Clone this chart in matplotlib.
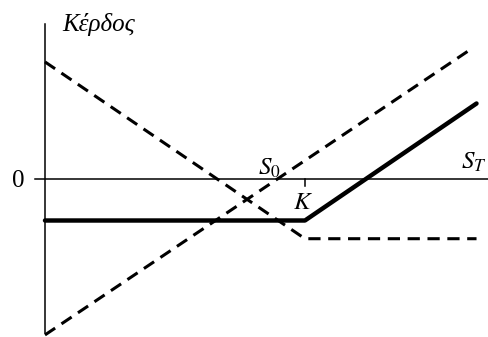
import matplotlib
matplotlib.use('Agg')
import matplotlib.pyplot as plt

plt.rcParams['mathtext.fontset'] = 'stix'
plt.rcParams['font.family'] = ['Liberation Serif', 'DejaVu Serif']

# Τιμές (μονάδες: K = 100)
K = 100
S0 = 87
premium = -16

# Αγορά δικαιώματος αγοράς (συνεχής γραμμή)
call_S = [0, K, 166]
call_profit = [premium, premium, 29]

# Πώληση δικαιώματος πώλησης / θέση κάτω (διακεκομμένη 1)
put_S = [0, K, 166]
put_profit = [45, -23, -23]

# Θέση στη μετοχή (διακεκομμένη 2)
stock_S = [0, 164]
stock_profit = [-60, 50]

fig = plt.figure(figsize=(4.89, 3.37), dpi=100)
ax = fig.add_axes([0, 0, 1, 1])
ax.set_xlim(-17.3, 170.8)
ax.set_ylim(-60.8, 68.8)
ax.axis('off')

# άξονες
ax.plot([-3.8, 170.8], [0, 0], color='black', lw=1.1)
ax.plot([0, 0], [-59.2, 59.6], color='black', lw=1.1)
ax.plot([K, K], [0, -2.8], color='black', lw=1.1)

ax.plot(put_S, put_profit, color='black', lw=2.2, ls=(0, (4, 2.5)))
ax.plot(stock_S, stock_profit, color='black', lw=2.2, ls=(0, (4, 2.5)))
ax.plot(call_S, call_profit, color='black', lw=3.2, solid_capstyle='round')

ax.text(6.5, 59.5, 'Κέρδος', fontsize=18, style='italic', va='center', ha='left')
ax.text(-10.4, -0.8, '0', fontsize=18, va='center', ha='center')
ax.text(S0 - 0.5, 4.2, '$S_0$', fontsize=18, va='center', ha='center')
ax.text(K - 0.8, -9.2, '$K$', fontsize=18, va='center', ha='center')
ax.text(165, 6.2, '$S_T$', fontsize=18, va='center', ha='center')

fig.savefig('out.png', dpi=100)
